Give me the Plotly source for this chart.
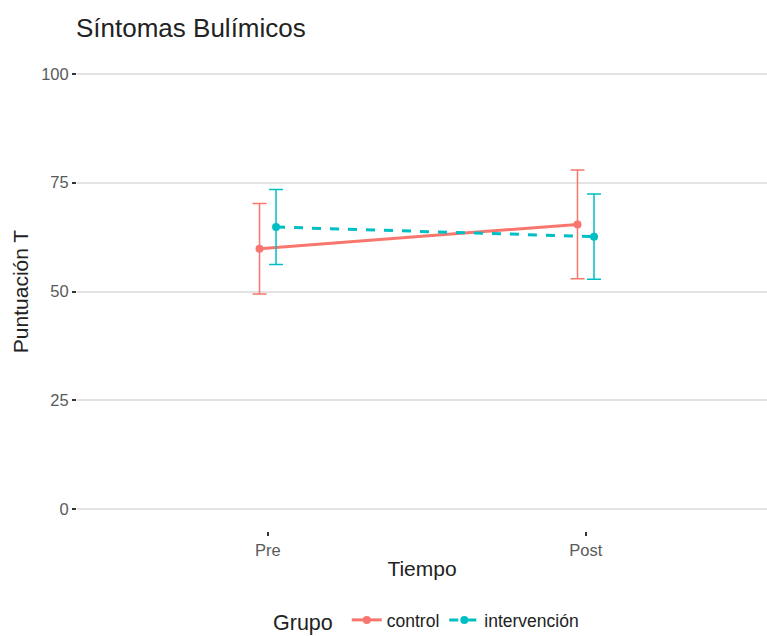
import plotly.graph_objects as go

# Data
tiempo = ["Pre", "Post"]
grupos = ["control", "intervención"]
media_control = [59.8, 65.4]
de_control = [10.4, 12.5]
media_intervencion = [64.8, 62.6]
de_intervencion = [8.6, 9.8]
y_ticks = [0, 25, 50, 75, 100]

colors = {"control": "#F8766D", "intervención": "#00BFC4"}
dashes = {"control": "solid", "intervención": "dash"}
dodge = {"control": -0.026, "intervención": 0.026}
medias = {"control": media_control, "intervención": media_intervencion}
des = {"control": de_control, "intervención": de_intervencion}

base_x = list(range(1, len(tiempo) + 1))

fig = go.Figure()
for g in grupos:
    xs = [b + dodge[g] for b in base_x]
    fig.add_trace(go.Scatter(
        x=xs, y=medias[g], name=g, mode="lines+markers",
        line=dict(color=colors[g], width=3, dash=dashes[g]),
        marker=dict(color=colors[g], size=8),
        error_y=dict(type="data", array=des[g], visible=True,
                     color=colors[g], thickness=1.5, width=7),
    ))

font_family = "Liberation Sans, Arial, sans-serif"
fig.update_layout(
    width=767, height=636,
    margin=dict(l=77, r=0, t=52, b=105),
    paper_bgcolor="white", plot_bgcolor="white",
    font=dict(family=font_family, color="#222"),
    title=dict(text="Síntomas Bulímicos", x=76/767, xanchor="left",
               y=1 - 28/636, yanchor="middle",
               font=dict(size=26, color="#222")),
    xaxis=dict(range=[0.4, 2.57], tickvals=base_x, ticktext=tiempo,
               showgrid=False, zeroline=False, showline=False,
               ticks="outside", ticklen=4, tickcolor="#333", tickwidth=1.5,
               tickfont=dict(size=16.5, color="#5a5a5a"), automargin=False,
               title=dict(text="Tiempo", font=dict(size=21, color="#222"), standoff=3)),
    yaxis=dict(range=[-5, 105], tickvals=y_ticks,
               showgrid=True, gridcolor="#E3E3E3", gridwidth=1.5,
               zeroline=False, showline=False,
               ticks="outside", ticklen=4, tickcolor="#333", tickwidth=1.5,
               tickfont=dict(size=16.5, color="#5a5a5a"), automargin=False,
               title=dict(text="Puntuación T", font=dict(size=21, color="#222"), standoff=6)),
    legend=dict(orientation="h", x=0.508, xanchor="center",
                yref="container", y=(636 - 621) / 636, yanchor="middle",
                title=dict(text="Grupo ", font=dict(size=21.5, color="#222")),
                font=dict(size=17.5, color="#222"), itemwidth=30),
    showlegend=True,
)

fig.write_html("out.html")
